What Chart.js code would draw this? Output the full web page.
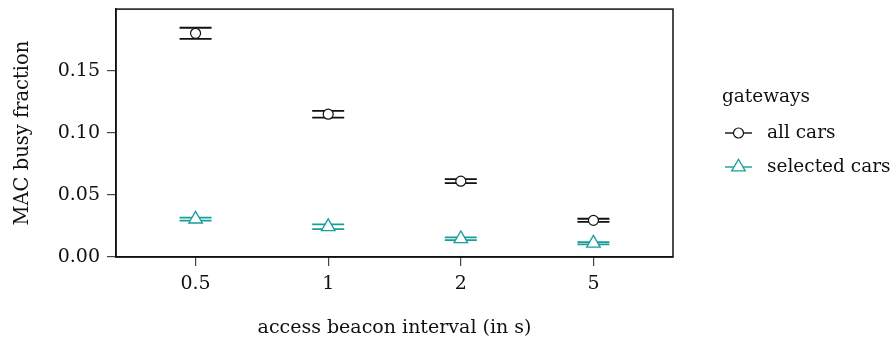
<!DOCTYPE html>
<html>
<head>
<meta charset="utf-8">
<script src="https://cdn.jsdelivr.net/npm/chart.js@4"></script>
<style>
  html, body { margin: 0; padding: 0; background: #fff; }
  #wrap { width: 893px; height: 344px; }
</style>
</head>
<body>
<div id="wrap"><canvas id="chart" width="893" height="344"></canvas></div>
<script>
// Beacon intervals (s) shown on the x axis
const intervals = ['0.5', '1', '2', '5'];
// Mean MAC busy fraction and half-width of the error bars
const allCarsMean = [0.180, 0.1149, 0.0610, 0.0295];
const allCarsErr = [0.0045, 0.0027, 0.0016, 0.0013];
const selectedMean = [0.0305, 0.0244, 0.0147, 0.0111];
const selectedErr = [0.0012, 0.0019, 0.0011, 0.0009];
const yTicks = [0, 0.05, 0.10, 0.15];

const FONT = 'DejaVu Serif';
const TEAL = '#199e99';
const INK = '#111';

const toPoints = (means) => means.map((v, i) => ({ x: i, y: v }));

// Error bars: two caps plus a vertical stem, drawn under the markers
const errorBars = {
  id: 'errorBars',
  beforeDatasetDraw(chart, args) {
    const ds = chart.data.datasets[args.index];
    const { ctx, scales: { x, y } } = chart;
    ctx.save();
    ctx.strokeStyle = ds.borderColor;
    ctx.lineWidth = 1.8;
    ds.data.forEach((p, i) => {
      const e = ds.errors[i];
      const px = x.getPixelForValue(p.x);
      const hi = y.getPixelForValue(p.y + e);
      const lo = y.getPixelForValue(p.y - e);
      const hw = 16;
      ctx.beginPath();
      ctx.moveTo(px - hw, hi); ctx.lineTo(px + hw, hi);
      ctx.moveTo(px - hw, lo); ctx.lineTo(px + hw, lo);
      ctx.moveTo(px, hi); ctx.lineTo(px, lo);
      ctx.stroke();
    });
    ctx.restore();
  }
};

// Closed frame around the plotting area
const frame = {
  id: 'frame',
  afterDatasetsDraw(chart) {
    const { ctx, chartArea: a } = chart;
    ctx.save();
    ctx.strokeStyle = INK;
    ctx.lineWidth = 1.5;
    ctx.strokeRect(a.left, a.top, a.right - a.left, a.bottom - a.top);
    ctx.restore();
  }
};

// Legend with a line sample through each marker
const sideLegend = {
  id: 'sideLegend',
  afterDraw(chart) {
    const { ctx } = chart;
    ctx.save();
    ctx.font = '18.5px "' + FONT + '"';
    ctx.textBaseline = 'middle';
    ctx.textAlign = 'left';
    ctx.fillStyle = INK;
    ctx.fillText('gateways', 722, 97);
    chart.data.datasets.forEach((ds, i) => {
      const cy = 133 + i * 34;
      const cx = 738.5;
      ctx.strokeStyle = ds.borderColor;
      ctx.lineWidth = 1.4;
      ctx.beginPath();
      ctx.moveTo(725, cy); ctx.lineTo(752, cy);
      ctx.stroke();
      ctx.fillStyle = '#fff';
      ctx.lineWidth = ds.pointBorderWidth;
      ctx.beginPath();
      if (ds.pointStyle === 'circle') {
        ctx.arc(cx, cy, ds.pointRadius, 0, Math.PI * 2);
      } else {
        const r = ds.pointRadius;
        for (let k = 0; k < 3; k++) {
          const a = k * 2 * Math.PI / 3;
          const px = cx + Math.sin(a) * r, py = cy - Math.cos(a) * r;
          k ? ctx.lineTo(px, py) : ctx.moveTo(px, py);
        }
        ctx.closePath();
      }
      ctx.fill();
      ctx.stroke();
      ctx.fillStyle = INK;
      ctx.fillText(ds.label, 767, cy);
    });
    ctx.restore();
  }
};

new Chart(document.getElementById('chart'), {
  type: 'scatter',
  data: {
    datasets: [
      {
        label: 'all cars',
        data: toPoints(allCarsMean),
        errors: allCarsErr,
        borderColor: INK,
        backgroundColor: '#fff',
        pointStyle: 'circle',
        pointRadius: 5,
        pointBorderWidth: 1.2,
        pointHoverRadius: 5
      },
      {
        label: 'selected cars',
        data: toPoints(selectedMean),
        errors: selectedErr,
        borderColor: TEAL,
        backgroundColor: '#fff',
        pointStyle: 'triangle',
        pointRadius: 7.8,
        pointBorderWidth: 1.3,
        pointHoverRadius: 7.8
      }
    ]
  },
  options: {
    responsive: false,
    animation: false,
    layout: { padding: { top: 8, right: 220, left: 0, bottom: 0 } },
    plugins: { legend: { display: false }, tooltip: { enabled: false } },
    scales: {
      x: {
        type: 'linear',
        min: -0.6,
        max: 3.6,
        afterBuildTicks(scale) { scale.ticks = intervals.map((_, i) => ({ value: i })); },
        afterFit(scale) { scale.height = 87; scale.paddingLeft = 0; scale.paddingRight = 0; },
        grid: { drawOnChartArea: false, drawTicks: true, tickLength: 9, color: '#444', lineWidth: 1.2 },
        border: { display: true, color: INK, width: 1.5 },
        ticks: {
          color: INK,
          padding: 7,
          maxRotation: 0,
          font: { family: FONT, size: 19 },
          callback: (v) => intervals[v]
        },
        title: {
          display: true,
          text: 'access beacon interval (in s)',
          color: INK,
          font: { family: FONT, size: 19 },
          padding: { top: 0, bottom: 5 }
        }
      },
      y: {
        min: 0,
        max: 0.1995,
        afterBuildTicks(scale) { scale.ticks = yTicks.map((v) => ({ value: v })); },
        afterFit(scale) { scale.width = 116; scale.paddingTop = 0; scale.paddingBottom = 0; },
        grid: { drawOnChartArea: false, drawTicks: true, tickLength: 9, color: '#444', lineWidth: 1.2 },
        border: { display: true, color: INK, width: 1.5 },
        ticks: {
          color: INK,
          padding: 7,
          font: { family: FONT, size: 19 },
          callback: (v) => v.toFixed(2)
        },
        title: {
          display: true,
          text: 'MAC busy fraction',
          color: INK,
          font: { family: FONT, size: 19.5 },
          padding: { top: 11, bottom: 0 }
        }
      }
    }
  },
  plugins: [errorBars, frame, sideLegend]
});
</script>
</body>
</html>
